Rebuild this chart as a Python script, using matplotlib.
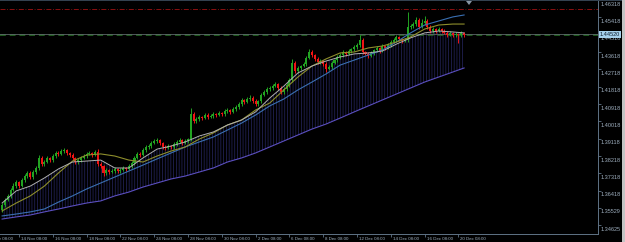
import numpy as np
import matplotlib
matplotlib.use("Agg")
import matplotlib.pyplot as plt
from matplotlib import transforms
from matplotlib.patches import Rectangle, Polygon

# ── Data (H4 bars) ────────────────────────────────────────────────────
OPEN = [1.3542, 1.3568, 1.3594, 1.3615, 1.3646, 1.3666, 1.3687, 1.3666, 1.3698, 1.3718,
        1.3734, 1.3713, 1.3739, 1.3760, 1.3812, 1.3781, 1.3791, 1.3812, 1.3801, 1.3822,
        1.3838, 1.3833, 1.3848, 1.3853, 1.3838, 1.3827, 1.3812, 1.3791, 1.3801, 1.3812,
        1.3822, 1.3833, 1.3838, 1.3827, 1.3843, 1.3781, 1.3770, 1.3734, 1.3750, 1.3739,
        1.3744, 1.3755, 1.3744, 1.3750, 1.3760, 1.3755, 1.3770, 1.3786, 1.3812, 1.3833,
        1.3827, 1.3853, 1.3869, 1.3874, 1.3890, 1.3900, 1.3905, 1.3890, 1.3869, 1.3864,
        1.3874, 1.3869, 1.3884, 1.3895, 1.3905, 1.3890, 1.3900, 1.3910, 1.4040, 1.4004,
        1.4014, 1.4025, 1.4019, 1.4035, 1.4025, 1.4030, 1.4040, 1.4035, 1.4045, 1.4040,
        1.4056, 1.4061, 1.4051, 1.4066, 1.4076, 1.4092, 1.4113, 1.4102, 1.4118, 1.4123,
        1.4108, 1.4092, 1.4108, 1.4139, 1.4154, 1.4170, 1.4175, 1.4185, 1.4196, 1.4175,
        1.4154, 1.4170, 1.4191, 1.4217, 1.4305, 1.4263, 1.4279, 1.4289, 1.4300, 1.4331,
        1.4362, 1.4346, 1.4326, 1.4310, 1.4315, 1.4300, 1.4274, 1.4284, 1.4305, 1.4320,
        1.4336, 1.4346, 1.4362, 1.4352, 1.4367, 1.4377, 1.4388, 1.4398, 1.4424, 1.4362,
        1.4352, 1.4341, 1.4357, 1.4372, 1.4383, 1.4367, 1.4393, 1.4383, 1.4398, 1.4414,
        1.4424, 1.4440, 1.4429, 1.4419, 1.4424, 1.4492, 1.4497, 1.4507, 1.4528, 1.4492,
        1.4512, 1.4523, 1.4492, 1.4471, 1.4481, 1.4471, 1.4481, 1.4471, 1.4461, 1.4450,
        1.4461, 1.4450, 1.4455, 1.4450, 1.4461]
HIGH = [1.3578, 1.3602, 1.3627, 1.3655, 1.3680, 1.3697, 1.3693, 1.3707, 1.3730, 1.3744,
        1.3742, 1.3750, 1.3769, 1.3826, 1.3822, 1.3803, 1.3821, 1.3819, 1.3832, 1.3850,
        1.3847, 1.3859, 1.3866, 1.3861, 1.3845, 1.3836, 1.3818, 1.3811, 1.3820, 1.3831,
        1.3843, 1.3846, 1.3845, 1.3854, 1.3857, 1.3790, 1.3778, 1.3760, 1.3757, 1.3753,
        1.3763, 1.3761, 1.3759, 1.3770, 1.3767, 1.3779, 1.3797, 1.3822, 1.3845, 1.3841,
        1.3863, 1.3878, 1.3886, 1.3898, 1.3910, 1.3918, 1.3912, 1.3896, 1.3877, 1.3883,
        1.3881, 1.3894, 1.3903, 1.3916, 1.3911, 1.3909, 1.3918, 1.4071, 1.4050, 1.4026,
        1.4034, 1.4032, 1.4046, 1.4043, 1.4040, 1.4049, 1.4046, 1.4055, 1.4052, 1.4065,
        1.4072, 1.4067, 1.4076, 1.4085, 1.4104, 1.4123, 1.4120, 1.4129, 1.4137, 1.4131,
        1.4117, 1.4115, 1.4149, 1.4163, 1.4181, 1.4183, 1.4195, 1.4208, 1.4203, 1.4183,
        1.4179, 1.4199, 1.4227, 1.4323, 1.4315, 1.4288, 1.4297, 1.4311, 1.4340, 1.4376,
        1.4370, 1.4353, 1.4335, 1.4323, 1.4321, 1.4308, 1.4294, 1.4314, 1.4328, 1.4346,
        1.4355, 1.4373, 1.4369, 1.4376, 1.4385, 1.4398, 1.4407, 1.4450, 1.4432, 1.4369,
        1.4361, 1.4367, 1.4380, 1.4394, 1.4389, 1.4402, 1.4400, 1.4408, 1.4423, 1.4432,
        1.4451, 1.4447, 1.4437, 1.4433, 1.4570, 1.4509, 1.4517, 1.4542, 1.4536, 1.4534,
        1.4549, 1.4532, 1.4500, 1.4491, 1.4488, 1.4490, 1.4487, 1.4479, 1.4470, 1.4471,
        1.4468, 1.4464, 1.4461, 1.4469, 1.4468]
LOW = [1.3532, 1.3559, 1.3587, 1.3605, 1.3638, 1.3657, 1.3655, 1.3659, 1.3688, 1.3710,
       1.3701, 1.3704, 1.3729, 1.3752, 1.3769, 1.3772, 1.3784, 1.3791, 1.3793, 1.3813,
       1.3822, 1.3825, 1.3838, 1.3829, 1.3819, 1.3802, 1.3779, 1.3783, 1.3792, 1.3805,
       1.3812, 1.3825, 1.3818, 1.3820, 1.3771, 1.3761, 1.3718, 1.3726, 1.3729, 1.3732,
       1.3735, 1.3736, 1.3734, 1.3743, 1.3746, 1.3747, 1.3760, 1.3777, 1.3804, 1.3817,
       1.3820, 1.3844, 1.3861, 1.3864, 1.3883, 1.3891, 1.3880, 1.3861, 1.3855, 1.3857,
       1.3859, 1.3861, 1.3875, 1.3888, 1.3880, 1.3882, 1.3891, 1.3900, 1.3992, 1.3996,
       1.4005, 1.4009, 1.4012, 1.4016, 1.4017, 1.4020, 1.4026, 1.4028, 1.4030, 1.4032,
       1.4047, 1.4041, 1.4044, 1.4057, 1.4068, 1.4082, 1.4093, 1.4095, 1.4108, 1.4099,
       1.4081, 1.4084, 1.4099, 1.4132, 1.4144, 1.4162, 1.4166, 1.4178, 1.4165, 1.4142,
       1.4145, 1.4162, 1.4181, 1.4208, 1.4252, 1.4255, 1.4269, 1.4282, 1.4291, 1.4323,
       1.4336, 1.4317, 1.4302, 1.4300, 1.4291, 1.4258, 1.4266, 1.4275, 1.4298, 1.4310,
       1.4328, 1.4337, 1.4342, 1.4345, 1.4358, 1.4369, 1.4378, 1.4389, 1.4352, 1.4344,
       1.4332, 1.4334, 1.4347, 1.4364, 1.4358, 1.4360, 1.4373, 1.4375, 1.4389, 1.4407,
       1.4414, 1.4421, 1.4410, 1.4412, 1.4412, 1.4483, 1.4489, 1.4497, 1.4483, 1.4484,
       1.4502, 1.4483, 1.4461, 1.4463, 1.4462, 1.4464, 1.4461, 1.4453, 1.4441, 1.4443,
       1.4440, 1.4442, 1.4408, 1.4441, 1.4442]
CLOSE = [1.3568, 1.3594, 1.3615, 1.3646, 1.3666, 1.3687, 1.3666, 1.3698, 1.3718, 1.3734,
         1.3713, 1.3739, 1.3760, 1.3812, 1.3781, 1.3791, 1.3812, 1.3801, 1.3822, 1.3838,
         1.3833, 1.3848, 1.3853, 1.3838, 1.3827, 1.3812, 1.3791, 1.3801, 1.3812, 1.3822,
         1.3833, 1.3838, 1.3827, 1.3843, 1.3781, 1.3770, 1.3734, 1.3750, 1.3739, 1.3744,
         1.3755, 1.3744, 1.3750, 1.3760, 1.3755, 1.3770, 1.3786, 1.3812, 1.3833, 1.3827,
         1.3853, 1.3869, 1.3874, 1.3890, 1.3900, 1.3905, 1.3890, 1.3869, 1.3864, 1.3874,
         1.3869, 1.3884, 1.3895, 1.3905, 1.3890, 1.3900, 1.3910, 1.4040, 1.4004, 1.4014,
         1.4025, 1.4019, 1.4035, 1.4025, 1.4030, 1.4040, 1.4035, 1.4045, 1.4040, 1.4056,
         1.4061, 1.4051, 1.4066, 1.4076, 1.4092, 1.4113, 1.4102, 1.4118, 1.4123, 1.4108,
         1.4092, 1.4108, 1.4139, 1.4154, 1.4170, 1.4175, 1.4185, 1.4196, 1.4175, 1.4154,
         1.4170, 1.4191, 1.4217, 1.4305, 1.4263, 1.4279, 1.4289, 1.4300, 1.4331, 1.4362,
         1.4346, 1.4326, 1.4310, 1.4315, 1.4300, 1.4274, 1.4284, 1.4305, 1.4320, 1.4336,
         1.4346, 1.4362, 1.4352, 1.4367, 1.4377, 1.4388, 1.4398, 1.4424, 1.4362, 1.4352,
         1.4341, 1.4357, 1.4372, 1.4383, 1.4367, 1.4393, 1.4383, 1.4398, 1.4414, 1.4424,
         1.4440, 1.4429, 1.4419, 1.4424, 1.4492, 1.4497, 1.4507, 1.4528, 1.4492, 1.4512,
         1.4523, 1.4492, 1.4471, 1.4481, 1.4471, 1.4481, 1.4471, 1.4461, 1.4450, 1.4461,
         1.4450, 1.4455, 1.4450, 1.4461, 1.4452]

# moving averages, read every 5th bar
MA_BARS = [0, 5, 10, 15, 20, 25, 30, 35, 40, 45, 50, 55, 60, 65, 70, 75, 80, 85, 90, 95,
           100, 105, 110, 115, 120, 125, 130, 135, 140, 145, 150, 155, 160, 164]
MA_GREY = [1.3578, 1.3641, 1.3666, 1.3708, 1.3755, 1.3791, 1.3796, 1.3801, 1.3760, 1.3760,
           1.3812, 1.3858, 1.3874, 1.3895, 1.3926, 1.3947, 1.3983, 1.4009, 1.4051, 1.4123,
           1.4185, 1.4253, 1.4289, 1.4315, 1.4336, 1.4352, 1.4357, 1.4367, 1.4403, 1.4435,
           1.4461, 1.4471, 1.4466, 1.4461]
MA_OLIVE = [1.3537, 1.3578, 1.3615, 1.3666, 1.3734, 1.3796, 1.3827, 1.3833, 1.3822, 1.3801,
            1.3791, 1.3822, 1.3848, 1.3869, 1.3910, 1.3942, 1.3983, 1.4009, 1.4061, 1.4097,
            1.4165, 1.4232, 1.4289, 1.4326, 1.4357, 1.4362, 1.4383, 1.4393, 1.4414, 1.4440,
            1.4481, 1.4502, 1.4507, 1.4507]
MA_BLUE = [1.3511, 1.3521, 1.3532, 1.3547, 1.3583, 1.3615, 1.3651, 1.3682, 1.3713, 1.3744,
           1.3775, 1.3807, 1.3838, 1.3869, 1.3895, 1.3921, 1.3957, 1.3993, 1.4035, 1.4082,
           1.4118, 1.4165, 1.4206, 1.4248, 1.4294, 1.4320, 1.4346, 1.4372, 1.4414, 1.4461,
           1.4502, 1.4523, 1.4544, 1.4554]
MA_PURPLE = [1.3495, 1.3506, 1.3516, 1.3532, 1.3547, 1.3563, 1.3578, 1.3589, 1.3615, 1.3635,
             1.3661, 1.3682, 1.3703, 1.3718, 1.3739, 1.3760, 1.3791, 1.3812, 1.3838, 1.3869,
             1.3900, 1.3931, 1.3962, 1.3988, 1.4019, 1.4051, 1.4082, 1.4113, 1.4144, 1.4175,
             1.4206, 1.4232, 1.4258, 1.4279]

X_TICK_BARS = [-6, 6, 18, 30, 42, 54, 66, 78, 90, 102, 114, 126, 138, 150, 162]
X_TICK_LABELS = ["12 Nov 08:00", "14 Nov 08:00", "16 Nov 08:00", "18 Nov 08:00",
                 "22 Nov 08:00", "24 Nov 08:00", "28 Nov 08:00", "30 Nov 08:00",
                 "2 Dec 08:00", "6 Dec 08:00", "8 Dec 08:00", "12 Dec 08:00",
                 "14 Dec 08:00", "16 Dec 08:00", "20 Dec 08:00"]
Y_TICKS = [1.46318, 1.45418, 1.44518, 1.43618, 1.42718, 1.41818, 1.40918,
           1.40018, 1.39118, 1.38218, 1.37318, 1.36418, 1.35529, 1.34625]
Y_TICK_LABELS = ["1.46318", "1.45418", "1.44518", "1.43618", "1.42718", "1.41818", "1.40918",
                 "1.40018", "1.39118", "1.38218", "1.37318", "1.36418", "1.35529", "1.34625"]
BID = 1.44520
RED_LEVEL = 1.4584

# ── Style ─────────────────────────────────────────────────────────────
BG = "#000000"
AXIS_C = "#5f7386"
TEXT_C = "#9fb0c0"
UP_C = "#22a322"
DN_C = "#f01414"

W, H, DPI = 625, 242, 100
fig = plt.figure(figsize=(W / DPI, H / DPI), dpi=DPI, facecolor=BG)
ax_l, ax_r, ax_b = 0, 598, 234
ax = fig.add_axes([ax_l / W, 1 - ax_b / H, (ax_r - ax_l) / W, ax_b / H])
ax.set_facecolor(BG)

idx = np.arange(len(CLOSE))
o, h, l, c = map(np.array, (OPEN, HIGH, LOW, CLOSE))

# histogram lines between the fast average and the slow one
plt.rcParams["hatch.linewidth"] = 0.55
ax.fill_between(MA_BARS, MA_GREY, MA_PURPLE, facecolor="none", edgecolor="#24245a",
                hatch="|" * 6, linewidth=0, zorder=1)

# candles
up = c >= o
cols = np.where(up, UP_C, DN_C)
ax.vlines(idx, l, h, colors=cols, linewidth=0.7, zorder=3)
body = np.maximum(np.abs(c - o), 0.00025)
ax.bar(idx, body, bottom=np.minimum(o, c), width=0.72, color=cols, linewidth=0, zorder=3)

# moving averages
ax.plot(MA_BARS, MA_PURPLE, color="#5b4fc0", lw=0.8, zorder=4)
ax.plot(MA_BARS, MA_BLUE, color="#3a6fb2", lw=0.8, zorder=4)
ax.plot(MA_BARS, MA_OLIVE, color="#8e8e2c", lw=0.8, zorder=4)
ax.plot(MA_BARS, MA_GREY, color="#b0b0b0", lw=0.7, zorder=4)

# levels
ax.axhline(RED_LEVEL, color="#a01212", lw=0.6, ls=(0, (6, 2, 1, 2)), zorder=2)
ax.axhline(BID, color="#1d5a1d", lw=1.4, ls=(0, (3, 2)), zorder=2)
ytr = transforms.blended_transform_factory(ax.transAxes, ax.transData)
up1 = transforms.ScaledTranslation(0, 1 / DPI, fig.dpi_scale_trans)
ax.plot([0, 1], [BID, BID], color="#5e6a6a", lw=0.6, zorder=2, transform=ytr + up1)

# axes frame
for side in ("top", "left"):
    ax.spines[side].set_visible(False)
for side in ("right", "bottom"):
    ax.spines[side].set_color(AXIS_C)
    ax.spines[side].set_linewidth(0.7)

ax.set_xticks(X_TICK_BARS)
ax.set_xticklabels([])
ax.set_yticks(Y_TICKS)
ax.set_yticklabels([])
ax.yaxis.tick_right()
ax.tick_params(axis="both", length=2.2, width=0.6, color=AXIS_C, direction="out")

# limits last: set_xticks would otherwise widen the view to the -6 tick
px_per_bar = 2.817
x0 = 2.1
ax.set_xlim(-x0 / px_per_bar, (ax_r - x0) / px_per_bar)
ax.set_ylim(1.46318 - ax_b * 0.000519, 1.46318)

font = dict(family=["Liberation Sans", "DejaVu Sans"], color=TEXT_C)
ylab = ytr + transforms.ScaledTranslation(3 / DPI, -4 / DPI, fig.dpi_scale_trans)
for v, s in zip(Y_TICKS, Y_TICK_LABELS):
    ax.text(1, v, s, transform=ylab, ha="left", va="center", fontsize=4.0,
            clip_on=False, **font)

xtr = transforms.blended_transform_factory(ax.transData, ax.transAxes)
xlab = xtr + transforms.ScaledTranslation(2 / DPI, -3 / DPI, fig.dpi_scale_trans)
for b, s in zip(X_TICK_BARS, X_TICK_LABELS):
    ax.text(b, 0, s, transform=xlab, ha="left", va="top", fontsize=3.2,
            clip_on=False, **font)

# bid price box
ax.text(1, BID, "1.44520", transform=ytr + transforms.ScaledTranslation(2 / DPI, 0, fig.dpi_scale_trans),
        ha="left", va="center", fontsize=4.0, color="#0a1a2a", family=["Liberation Sans", "DejaVu Sans"],
        clip_on=False, zorder=6,
        bbox=dict(boxstyle="square,pad=0.15", facecolor="#a6d0ec", edgecolor="none"))

# window chrome: top border, shift marker, right strip
fig.add_artist(Rectangle((0, 1 - 1.2 / H), 1, 1.2 / H, transform=fig.transFigure,
                         facecolor="#33414f", edgecolor="none"))
fig.add_artist(Polygon([[466 / W, 1 - 1 / H], [472 / W, 1 - 1 / H], [469 / W, 1 - 5 / H]],
                       closed=True, transform=fig.transFigure, facecolor="#8896a4",
                       edgecolor="none"))
fig.add_artist(Rectangle((622 / W, 0), 3 / W, 1, transform=fig.transFigure,
                         facecolor="#c4c4c4", edgecolor="none"))

fig.savefig("out.png", dpi=DPI, facecolor=BG)
